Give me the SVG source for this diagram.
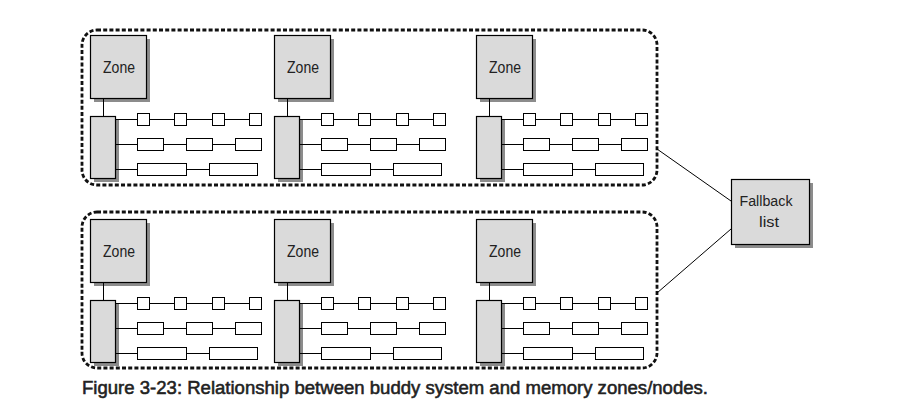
<svg xmlns="http://www.w3.org/2000/svg" width="900" height="418" viewBox="0 0 900 418">
<style>
.sh{fill:#8c8c8c;stroke:none}
.zone{fill:#dadada;stroke:#000;stroke-width:1.2}
.blk{fill:#fff;stroke:#000;stroke-width:1}
.zt{font-family:"Liberation Sans",Arial,sans-serif;font-size:16.5px;fill:#222;text-anchor:middle}
.cont{fill:none;stroke:#111;stroke-width:2.8;stroke-dasharray:4 2.2}
.con{fill:none;stroke:#000;stroke-width:1}
.cap{font-family:"Liberation Sans",Arial,sans-serif;font-size:18px;fill:#222;stroke:#222;stroke-width:0.55}
</style>
<defs>
<g id="zoneShape">
<rect class="sh" x="4" y="39" width="56" height="63"/>
<rect class="zone" x="0.5" y="35.5" width="56" height="63"/>
<text class="zt" x="29" y="72.5" textLength="32" lengthAdjust="spacingAndGlyphs">Zone</text>
</g>
<g id="freeShape">
<rect class="sh" x="4" y="120" width="25" height="62"/>
<rect class="zone" x="0.5" y="116.5" width="25" height="62"/>
</g>
<g id="blocksShape">
<rect class="blk" x="47.5" y="113.5" width="12" height="12"/>
<rect class="blk" x="84.5" y="113.5" width="12" height="12"/>
<rect class="blk" x="122.5" y="113.5" width="12" height="12"/>
<rect class="blk" x="159.5" y="113.5" width="12" height="12"/>
<rect class="blk" x="47.5" y="138.5" width="26" height="12"/>
<rect class="blk" x="96.5" y="138.5" width="26" height="12"/>
<rect class="blk" x="145.5" y="138.5" width="26" height="12"/>
<rect class="blk" x="47.5" y="163.5" width="49" height="12"/>
<rect class="blk" x="119.5" y="163.5" width="48" height="12"/>
</g>
<path id="zoneLinks" class="con" d="M13.5 98.5V116.5M25.5 119.5H47.5M59.5 119.5H84.5M96.5 119.5H122.5M134.5 119.5H159.5M25.5 144.5H47.5M73.5 144.5H96.5M122.5 144.5H145.5M25.5 169.5H47.5M96.5 169.5H119.5"/>
</defs>

<g id="node-top">
<rect class="cont" x="82" y="30" width="575" height="155" rx="15"/>
</g>
<g id="node-bottom">
<rect class="cont" x="82" y="212" width="575" height="156" rx="15"/>
</g>

<g id="top-zone1" transform="translate(90,0)"><use href="#zoneShape"/></g>
<g id="top-zone1-free" transform="translate(90,0)"><use href="#freeShape"/><use href="#blocksShape"/></g>
<g id="top-zone2" transform="translate(274,0)"><use href="#zoneShape"/></g>
<g id="top-zone2-free" transform="translate(274,0)"><use href="#freeShape"/><use href="#blocksShape"/></g>
<g id="top-zone3" transform="translate(476,0)"><use href="#zoneShape"/></g>
<g id="top-zone3-free" transform="translate(476,0)"><use href="#freeShape"/><use href="#blocksShape"/></g>

<g id="bot-zone1" transform="translate(90,184)"><use href="#zoneShape"/></g>
<g id="bot-zone1-free" transform="translate(90,184)"><use href="#freeShape"/><use href="#blocksShape"/></g>
<g id="bot-zone2" transform="translate(274,184)"><use href="#zoneShape"/></g>
<g id="bot-zone2-free" transform="translate(274,184)"><use href="#freeShape"/><use href="#blocksShape"/></g>
<g id="bot-zone3" transform="translate(476,184)"><use href="#zoneShape"/></g>
<g id="bot-zone3-free" transform="translate(476,184)"><use href="#freeShape"/><use href="#blocksShape"/></g>

<g id="fallback">
<rect class="sh" x="735" y="183" width="78" height="65"/>
<rect class="zone" x="731.5" y="179.5" width="78" height="65"/>
<text class="zt" x="766" y="206" style="font-size:15.5px" textLength="53" lengthAdjust="spacingAndGlyphs">Fallback</text>
<text class="zt" x="769" y="226.5" style="font-size:15.5px" textLength="20" lengthAdjust="spacingAndGlyphs">list</text>
</g>

<g id="connectors">
<use href="#zoneLinks" transform="translate(90,0)"/>
<use href="#zoneLinks" transform="translate(274,0)"/>
<use href="#zoneLinks" transform="translate(476,0)"/>
<use href="#zoneLinks" transform="translate(90,184)"/>
<use href="#zoneLinks" transform="translate(274,184)"/>
<use href="#zoneLinks" transform="translate(476,184)"/>
<path class="con" d="M657 149L731 201M657 293L731 229"/>
</g>

<text class="cap" x="82" y="394" textLength="626" lengthAdjust="spacingAndGlyphs">Figure 3-23: Relationship between buddy system and memory zones/nodes.</text>
</svg>
